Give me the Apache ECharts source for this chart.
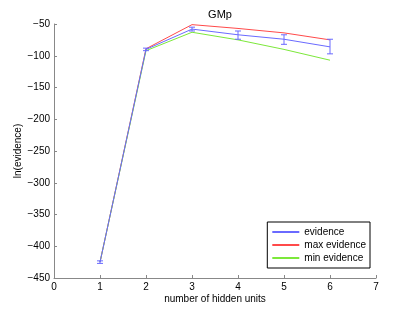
<!DOCTYPE html>
<html><head><meta charset="utf-8">
<script src="https://cdn.jsdelivr.net/npm/echarts@6/dist/echarts.min.js"></script>
<style>html,body{margin:0;padding:0;background:#fff}#c{width:415px;height:313px}</style>
</head><body><div id="c"></div>
<script>
var hiddenUnits = [1, 2, 3, 4, 5, 6];
var evidence = [-425, -90, -58, -67, -74, -86];
var evidenceLow = [-427, -92, -61, -74, -82, -97];
var evidenceHigh = [-423, -88, -55, -61, -67, -74];
var maxEvidence = [-425, -89, -51, -57, -64, -75];
var minEvidence = [-425, -92, -63, -75, -90, -107];
var xTicks = [0, 1, 2, 3, 4, 5, 6, 7];
var yTicks = [-450, -400, -350, -300, -250, -200, -150, -100, -50];

var font = 'Liberation Sans, Arial, sans-serif';
var blue = '#6a6aff', red = '#ff4a4a', green = '#7ce83a';
function pts(ys){ return hiddenUnits.map(function(x,i){ return [x, ys[i]]; }); }
var errData = hiddenUnits.map(function(x,i){ return [x, evidenceLow[i], evidenceHigh[i]]; });

var chart = echarts.init(document.getElementById('c'), null, {renderer:'canvas'});
chart.setOption({
  animation: false,
  backgroundColor: '#fff',
  title: { text: 'GMp', left: 215, top: 4, textAlign: 'center',
    textStyle: { fontFamily: font, fontSize: 11, fontWeight: 'normal', color: '#000' } },
  grid: { left: 54, right: 39, top: 24, bottom: 35 },
  legend: {
    right: 45, top: 222, orient: 'vertical', itemWidth: 27, itemHeight: 2, itemGap: 3,
    padding: [5, 4, 5, 5], borderColor: '#000', borderWidth: 1, backgroundColor: '#fff',
    icon: 'rect',
    textStyle: { fontFamily: font, fontSize: 10, color: '#000' },
    data: ['evidence', 'max evidence', 'min evidence']
  },
  xAxis: {
    type: 'value', min: 0, max: 7, interval: 1,
    name: 'number of hidden units', nameLocation: 'middle', nameGap: 16, nameMoveOverlap: false,
    nameTextStyle: { fontFamily: font, fontSize: 10, color: '#000' },
    axisLine: { lineStyle: { color: '#888' } },
    axisTick: { inside: true, length: 3, lineStyle: { color: '#888' } },
    axisLabel: { fontFamily: font, fontSize: 10, color: '#000', margin: 4 },
    splitLine: { show: false }
  },
  yAxis: {
    type: 'value', min: -450, max: -50, interval: 50,
    name: 'ln(evidence)', nameLocation: 'middle', nameGap: 31, nameMoveOverlap: false,
    nameTextStyle: { fontFamily: font, fontSize: 10, color: '#000' },
    axisLine: { show: true, lineStyle: { color: '#888' } },
    axisTick: { show: true, inside: true, length: 3, lineStyle: { color: '#888' } },
    axisLabel: { fontFamily: font, fontSize: 10, color: '#000', margin: 4,
      formatter: function(v){ return String(v).replace('-', '\u2212'); } },
    splitLine: { show: false }
  },
  series: [
    { name: 'evidence', type: 'line', data: pts(evidence), showSymbol: false, symbol: 'none',
      lineStyle: { color: blue, width: 1 }, itemStyle: { color: blue }, z: 3 },
    { name: 'max evidence', type: 'line', data: pts(maxEvidence), showSymbol: false, symbol: 'none',
      lineStyle: { color: red, width: 1 }, itemStyle: { color: red }, z: 2 },
    { name: 'min evidence', type: 'line', data: pts(minEvidence), showSymbol: false, symbol: 'none',
      lineStyle: { color: green, width: 1 }, itemStyle: { color: green }, z: 2 },
    { name: 'err', type: 'custom', data: errData, z: 4,
      renderItem: function(params, api){
        var x = api.value(0);
        var lo = api.coord([x, api.value(1)]);
        var hi = api.coord([x, api.value(2)]);
        var w = 3;
        var st = { stroke: blue, lineWidth: 1 };
        return { type: 'group', children: [
          { type: 'line', shape: { x1: lo[0], y1: lo[1], x2: hi[0], y2: hi[1] }, style: st },
          { type: 'line', shape: { x1: lo[0]-w, y1: lo[1], x2: lo[0]+w, y2: lo[1] }, style: st },
          { type: 'line', shape: { x1: hi[0]-w, y1: hi[1], x2: hi[0]+w, y2: hi[1] }, style: st }
        ]};
      }
    }
  ]
});
</script></body></html>
